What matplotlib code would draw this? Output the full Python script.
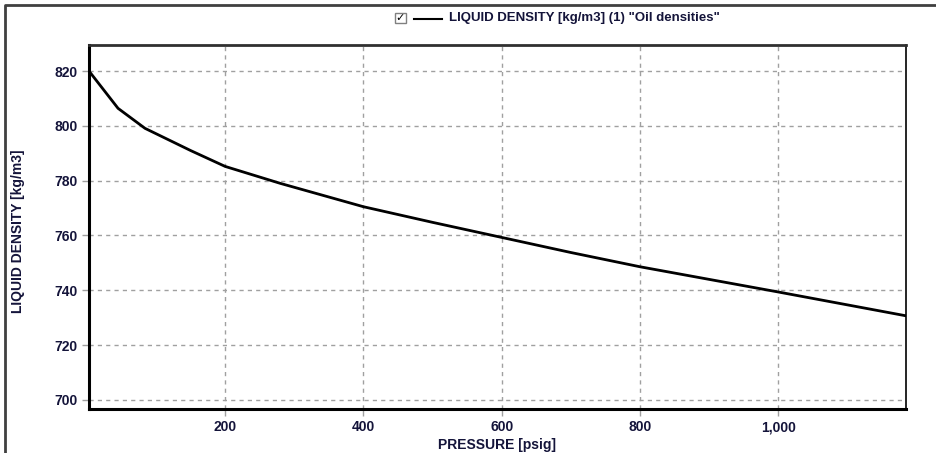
import numpy as np
import matplotlib.pyplot as plt
from matplotlib.patches import Rectangle
from matplotlib.lines import Line2D
from matplotlib.ticker import FuncFormatter

plt.rcParams['font.family'] = ['Liberation Sans', 'DejaVu Sans']
plt.rcParams['font.weight'] = 'bold'

# data
pressure = [3, 45, 84, 150, 200, 280, 400, 500, 600, 700, 800, 900, 1000, 1100, 1185]
density = [820.0, 806.4, 799.1, 791.0, 785.2, 779.0, 770.5, 764.8, 759.3, 753.8,
           748.6, 744.0, 739.4, 734.7, 730.7]
x_ticks = [200, 400, 600, 800, 1000]
y_ticks = [700, 720, 740, 760, 780, 800, 820]

txt = '#14143a'

fig = plt.figure(figsize=(9.37, 4.53), dpi=100)
ax = fig.add_axes([89/937, 1 - 409/453, (906 - 89)/937, (409 - 45)/453])

ax.plot(pressure, density, color='black', lw=2)
ax.set_xlim(3, 1185)
ax.set_ylim(696.7, 829.5)
ax.set_xticks(x_ticks)
ax.set_yticks(y_ticks)
ax.xaxis.set_major_formatter(FuncFormatter(lambda v, p: f'{int(v):,}'))

ax.grid(True, color='#a0a0a0', linestyle=(0, (3, 3)), lw=1)
ax.tick_params(length=5, width=1, color='#a0a0a0', labelsize=10, labelcolor=txt, pad=3)
for lab in ax.get_xticklabels() + ax.get_yticklabels():
    lab.set_fontweight('bold')

for side, c, w in [('left', 'black', 2.2), ('bottom', 'black', 2.2),
                   ('top', '#303030', 2), ('right', 'black', 1.2)]:
    ax.spines[side].set_color(c)
    ax.spines[side].set_linewidth(w)

ax.set_xlabel('PRESSURE [psig]', fontsize=10, fontweight='bold', color=txt, labelpad=3)
fig.text(18/937, 1 - 231/453, 'LIQUID DENSITY [kg/m3]', rotation=90, fontsize=10,
         fontweight='bold', color=txt, ha='center', va='center')

# legend row
fig.patches.append(Rectangle((395/937, 1 - 23/453), 11/937, 10/453, transform=fig.transFigure,
                             facecolor='white', edgecolor='#808080', lw=1))
fig.text(400.5/937, 1 - 18.5/453, '\u2713', fontsize=8, fontweight='bold', color='black',
         ha='center', va='center', family=['DejaVu Sans'])
fig.lines.append(Line2D([414/937, 442/937], [1 - 18.5/453, 1 - 18.5/453],
                        transform=fig.transFigure, color='black', lw=1.5))
fig.text(449/937, 1 - 18.5/453, 'LIQUID DENSITY [kg/m3] (1) "Oil densities"', fontsize=9.5,
         fontweight='bold', color=txt, ha='left', va='center')

# outer frame
fig.lines.append(Line2D([4.5/937, 4.5/937, 1.0], [0.0, 1 - 5/453, 1 - 5/453],
                        transform=fig.transFigure, color='#404040', lw=2))

fig.savefig('out.png', dpi=100)
